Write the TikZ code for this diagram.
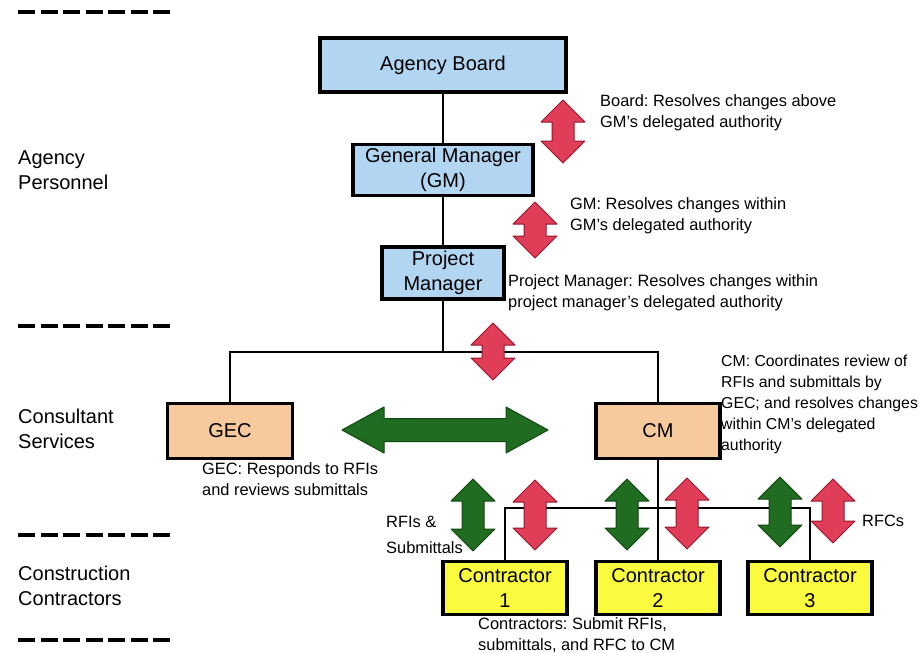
\documentclass[tikz,border=0pt]{standalone}
\usepackage{fontspec}
\setmainfont{Liberation Sans}
\frenchspacing
\definecolor{boxblue}{RGB}{178,213,241}
\definecolor{boxtan}{RGB}{246,202,156}
\definecolor{boxyellow}{RGB}{250,250,62}
\definecolor{arrred}{RGB}{224,62,88}
\definecolor{arrreddark}{RGB}{150,22,42}
\definecolor{arrgreen}{RGB}{32,108,32}
\definecolor{arrgreendark}{RGB}{16,70,16}
\newcommand{\VArr}[4]{%
  \draw[#1] (#2,#3) -- ({#2+22},{#3+22}) -- ({#2+11},{#3+22}) -- ({#2+11},{#4-22})
    -- ({#2+22},{#4-22}) -- (#2,#4) -- ({#2-22},{#4-22}) -- ({#2-11},{#4-22})
    -- ({#2-11},{#3+22}) -- ({#2-22},{#3+22}) -- cycle;}
\begin{document}
\begin{tikzpicture}[x=1pt,y=-1pt,
  box/.style={draw=black,line width=3.6pt,inner sep=0pt,align=center,
    font=\fontsize{20}{25}\selectfont},
  bluebox/.style={box,fill=boxblue},
  tanbox/.style={box,fill=boxtan},
  yellowbox/.style={box,fill=boxyellow},
  note/.style={anchor=west,inner sep=0pt,align=left,font=\fontsize{16.4}{21}\selectfont},
  side/.style={anchor=west,inner sep=0pt,align=left,font=\fontsize{20}{25}\selectfont},
  link/.style={draw=black,line width=2.8pt},
  sepline/.style={draw=black,line width=4pt,dash pattern=on 17pt off 5.5pt},
  redarr/.style={fill=arrred,draw=arrreddark,line width=1pt,line join=round},
  greenarr/.style={fill=arrgreen,draw=arrgreendark,line width=1pt,line join=round}]
\useasboundingbox (0,0) rectangle (924,653);

% separators
\draw[sepline] (18,12) -- (170,12);
\draw[sepline] (18,326) -- (170,326);
\draw[sepline] (18,535) -- (170,535);
\draw[sepline] (18,640) -- (170,640);

% side labels
\node[side] (lagency) at (18,170) {Agency\\Personnel};
\node[side] (lcons) at (18,429) {Consultant\\Services};
\node[side] (lconstr) at (18,586) {Construction\\Contractors};

% boxes
\node[bluebox,minimum width=246pt,minimum height=54pt] (ab) at (443,65) {Agency Board};
\node[bluebox,minimum width=180pt,minimum height=51pt] (gm) at (443,170) {General Manager\\(GM)};
\node[bluebox,minimum width=122pt,minimum height=52pt] (pm) at (443,273) {Project\\Manager};
\node[tanbox,minimum width=125pt,minimum height=55pt] (gec) at (230,431) {GEC};
\node[tanbox,minimum width=124pt,minimum height=55pt] (cm) at (658,431) {CM};
\node[yellowbox,minimum width=124pt,minimum height=53pt] (c1) at (505,588) {Contractor\\1};
\node[yellowbox,minimum width=124pt,minimum height=53pt] (c2) at (658,588) {Contractor\\2};
\node[yellowbox,minimum width=124pt,minimum height=53pt] (c3) at (810,588) {Contractor\\3};

% connectors
\coordinate (hub) at (443,352);
\coordinate (bus) at (658,508);
\draw[link] (ab) -- (gm);
\draw[link] (gm) -- (pm);
\draw[link] (pm) -- (hub);
\draw[link] (hub) -| (gec);
\draw[link] (hub) -| (cm);
\draw[link] (cm) -- (c2);
\draw[link] (bus) -| (c1);
\draw[link] (bus) -| (c3);

% arrows
\VArr{redarr}{563}{100}{163}
\VArr{redarr}{535}{202}{258}
\VArr{redarr}{493}{323}{380}
\VArr{greenarr}{473}{479}{551}
\VArr{redarr}{535}{480}{550}
\VArr{greenarr}{627}{479}{550}
\VArr{redarr}{687}{478}{549}
\VArr{greenarr}{780}{477}{547}
\VArr{redarr}{833}{479}{543}
\draw[greenarr] (342,430) -- (384,407) -- (384,418.5) -- (506,418.5) -- (506,407)
  -- (548,430) -- (506,453) -- (506,441.5) -- (384,441.5) -- (384,453) -- cycle;

% notes
\node[note] (nboard) at (600,113) {Board: Resolves changes above\\GM's delegated authority};
\node[note] (ngm) at (570,216) {GM: Resolves changes within\\GM's delegated authority};
\node[note] (npm) at (508,293) {Project Manager: Resolves changes within\\project manager's delegated authority};
\node[note,font=\fontsize{15.8}{21}\selectfont] (ncm) at (721,404) {CM: Coordinates review of\\RFIs and submittals by\\GEC; and resolves changes\\within CM's delegated\\authority};
\node[note] (ngec) at (202,479) {GEC: Responds to RFIs\\and reviews submittals};
\node[note] (nrfi) at (386,535) {RFIs \&\\[5pt]Submittals};
\node[note] (nrfc) at (862,521) {RFCs};
\node[note] (ncon) at (478,635) {Contractors: Submit RFIs,\\submittals, and RFC to CM};
\end{tikzpicture}
\end{document}
